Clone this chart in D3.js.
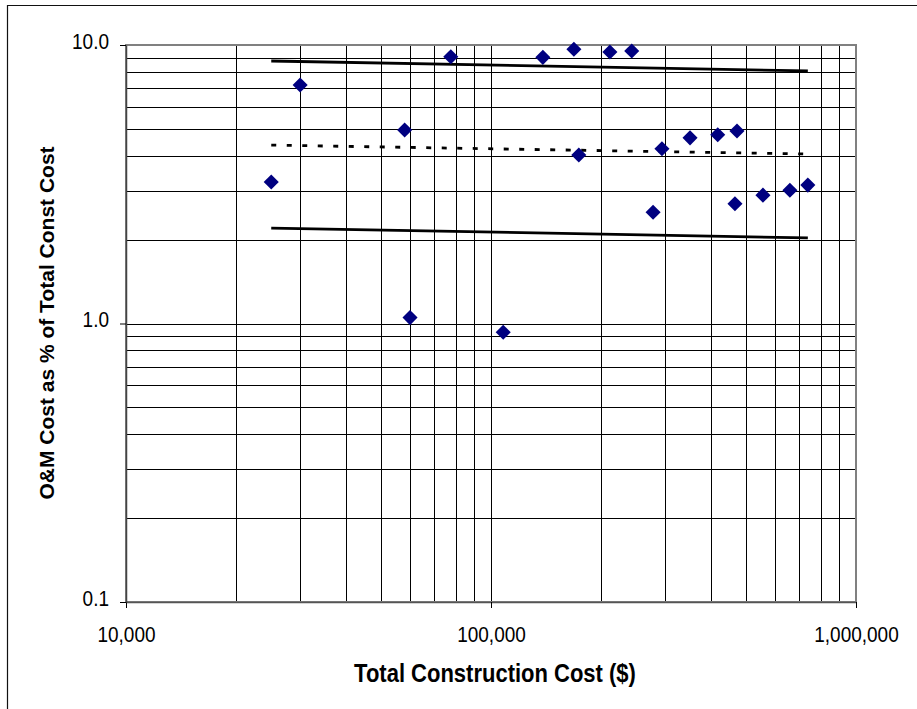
<!DOCTYPE html>
<html>
<head>
<meta charset="utf-8">
<script src="https://cdn.jsdelivr.net/npm/d3@7"></script>
<style>
  html, body { margin: 0; padding: 0; background: #fff; }
  svg { display: block; }
  text { font-family: "Liberation Sans", Arial, sans-serif; }
</style>
</head>
<body>
<svg id="chart" width="917" height="709"></svg>
<script>
// ---- data ----
const totalCost = [25000, 30000, 58000, 60000, 77600, 108000, 138700, 168700, 174000, 211700,
                   243000, 278000, 294000, 351000, 418000, 466000, 472000, 556000, 659000, 738000];
const omPct     = [3.22, 7.18, 4.95, 1.05, 9.08, 0.93, 9.03, 9.65, 4.03, 9.44,
                   9.52, 2.51, 4.24, 4.64, 4.76, 2.69, 4.91, 2.89, 3.01, 3.14];
const lineX     = [25000, 738000];
const upperLine = [8.76, 8.07];
const meanLine  = [4.37, 4.06];
const lowerLine = [2.20, 2.03];
const xTickValues = [1e4, 1e5, 1e6];
const xTickLabels = ["10,000", "100,000", "1,000,000"];
const yTickValues = [0.1, 1, 10];
const yTickLabels = ["0.1", "1.0", "10.0"];
const xTitle = "Total Construction Cost ($)";
const yTitle = "O&M Cost as % of Total Const Cost";

// ---- layout ----
const svg = d3.select("#chart");
const L = 126, R = 856, T = 45, B = 602;
const x = d3.scaleLog().domain([1e4, 1e6]).range([L, R]);
const y = d3.scaleLog().domain([0.1, 10]).range([B, T]);
const SY = 1.12; // vertical text stretch seen in the reference

// outer frame (left and top edges visible)
svg.append("path")
  .attr("d", `M7.5,720 L7.5,5.5 L930,5.5`)
  .attr("fill", "none").attr("stroke", "#111").attr("stroke-width", 1.2);

// gridlines (major + minor)
const xGrid = x.ticks().filter(v => v > 1e4 && v < 1e6);
const yGrid = y.ticks().filter(v => v > 0.1 && v < 10);
const g = svg.append("g").attr("shape-rendering", "crispEdges");
g.selectAll(".vx").data(xGrid).join("line")
  .attr("x1", d => Math.round(x(d)) + 0.5).attr("x2", d => Math.round(x(d)) + 0.5)
  .attr("y1", T).attr("y2", B)
  .attr("stroke", "#000").attr("stroke-width", 1);
g.selectAll(".hy").data(yGrid).join("line")
  .attr("y1", d => Math.round(y(d)) + 0.5).attr("y2", d => Math.round(y(d)) + 0.5)
  .attr("x1", L).attr("x2", R)
  .attr("stroke", "#000").attr("stroke-width", 1);

// plot border
svg.append("rect")
  .attr("x", L).attr("y", T).attr("width", R - L).attr("height", B - T)
  .attr("fill", "none").attr("stroke", "#808080").attr("stroke-width", 2);

// axes
const xAxis = d3.axisBottom(x).tickValues(xTickValues)
  .tickFormat((d, i) => xTickLabels[i]).tickSize(6).tickSizeOuter(0);
const yAxis = d3.axisLeft(y).tickValues(yTickValues)
  .tickFormat((d, i) => yTickLabels[i]).tickSize(6).tickSizeOuter(0);

const gx = svg.append("g").attr("transform", `translate(0,${B})`).call(xAxis);
gx.select(".domain").attr("stroke", "#555").attr("stroke-width", 1.5);
gx.selectAll(".tick line").attr("stroke", "#000");
gx.selectAll(".tick text").attr("font-size", 19).attr("fill", "#000")
  .attr("font-family", "'Liberation Sans', Arial, sans-serif")
  .attr("dy", 0).attr("y", 40 / SY).attr("transform", `scale(1,${SY})`);

const gy = svg.append("g").attr("transform", `translate(${L},0)`).call(yAxis);
gy.select(".domain").attr("stroke", "#444").attr("stroke-width", 1.5);
gy.selectAll(".tick line").attr("stroke", "#000");
gy.selectAll(".tick text").attr("font-size", 19).attr("fill", "#000")
  .attr("font-family", "'Liberation Sans', Arial, sans-serif")
  .attr("x", -17).attr("dy", 0).attr("y", 3 / SY).attr("transform", `scale(1,${SY})`);

// fitted lines
const line = d3.line().x(d => x(d[0])).y(d => y(d[1]));
svg.append("path").datum(lineX.map((v, i) => [v, upperLine[i]]))
  .attr("d", line).attr("fill", "none").attr("stroke", "#000").attr("stroke-width", 2.8);
svg.append("path").datum(lineX.map((v, i) => [v, lowerLine[i]]))
  .attr("d", line).attr("fill", "none").attr("stroke", "#000").attr("stroke-width", 2.8);
svg.append("path").datum(lineX.map((v, i) => [v, meanLine[i]]))
  .attr("d", line).attr("fill", "none").attr("stroke", "#000").attr("stroke-width", 2.8)
  .attr("stroke-dasharray", "5,10.5");

// points (diamonds)
const sym = d3.symbol().type(d3.symbolDiamond2).size(145);
svg.selectAll(".pt").data(totalCost.map((v, i) => [v, omPct[i]])).join("path")
  .attr("transform", d => `translate(${x(d[0])},${y(d[1])})`)
  .attr("d", sym).attr("fill", "#000080");

// titles
svg.append("text").attr("transform", `translate(495,682) scale(1,1.14)`)
  .attr("text-anchor", "middle")
  .attr("font-size", 22).attr("font-weight", "bold").attr("fill", "#000").text(xTitle);
svg.append("text").attr("transform", "translate(53.5,323) rotate(-90)")
  .attr("text-anchor", "middle").attr("font-size", 21).attr("font-weight", "bold")
  .attr("fill", "#000").text(yTitle);
</script>
</body>
</html>
